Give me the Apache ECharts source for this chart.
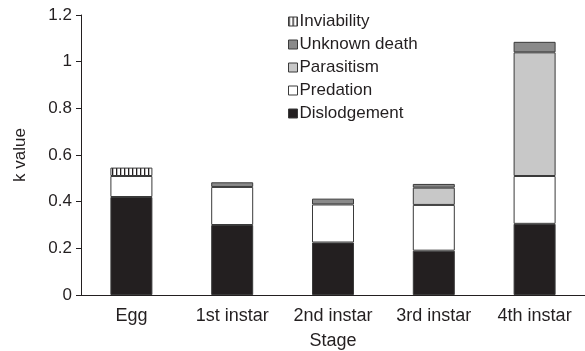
<!DOCTYPE html>
<html>
<head>
<meta charset="utf-8">
<script src="https://cdn.jsdelivr.net/npm/echarts@6/dist/echarts.min.js"></script>
<style>html,body{margin:0;padding:0;background:#fff;}#c{width:585px;height:351px;}</style>
</head>
<body>
<div id="c"></div>
<script>
const categories = ['Egg', '1st instar', '2nd instar', '3rd instar', '4th instar'];
const dislodgement = [0.42, 0.30, 0.225, 0.19, 0.305];
const predation = [0.09, 0.163, 0.163, 0.196, 0.205];
const parasitism = [0, 0, 0, 0.074, 0.53];
const unknownDeath = [0, 0.02, 0.025, 0.016, 0.045];
const inviability = [0.036, 0, 0, 0, 0];
const yTicks = [0, 0.2, 0.4, 0.6, 0.8, 1, 1.2];

function stripePattern() {
  const cv = document.createElement('canvas');
  cv.width = 4; cv.height = 8;
  const g = cv.getContext('2d');
  g.fillStyle = '#ffffff'; g.fillRect(0, 0, 4, 8);
  g.fillStyle = '#231f20'; g.fillRect(0, 0, 1.3, 8);
  return { image: cv, repeat: 'repeat' };
}
const toData = arr => arr.map(v => (v === 0 ? null : v));
const font = 'Liberation Sans, Arial, sans-serif';
const border = { borderColor: '#3a3a3a', borderWidth: 1 };

const chart = echarts.init(document.getElementById('c'), null, { renderer: 'canvas' });
const mk = (name, data, color) => ({
  name, type: 'bar', stack: 'k', data: toData(data), barWidth: 42,
  itemStyle: Object.assign({ color }, border),
  emphasis: { disabled: true }
});
chart.setOption({
  animation: false,
  textStyle: { fontFamily: font },
  grid: { left: 81, right: 0, top: 15, bottom: 56, outerBoundsMode: 'none', containLabel: false },
  legend: {
    orient: 'vertical', left: 288, top: 13, padding: 0,
    itemWidth: 9, itemHeight: 9, itemGap: 6,
    icon: 'rect',
    data: ['Inviability', 'Unknown death', 'Parasitism', 'Predation', 'Dislodgement'],
    textStyle: { fontFamily: font, fontSize: 17, color: '#231f20', padding: [0, 0, 0, -3] },
    itemStyle: { borderColor: '#3a3a3a', borderWidth: 1 }
  },
  xAxis: {
    type: 'category', data: categories,
    name: 'Stage', nameLocation: 'middle', nameGap: 37,
    nameTextStyle: { fontFamily: font, fontSize: 18, color: '#231f20' },
    axisLine: { lineStyle: { color: '#231f20', width: 1 } },
    axisTick: { length: 5, lineStyle: { color: '#231f20' } },
    axisLabel: { fontFamily: font, fontSize: 18, color: '#231f20', margin: 12, interval: 0 }
  },
  yAxis: {
    type: 'value', min: yTicks[0], max: yTicks[yTicks.length - 1], interval: 0.2,
    name: 'k value', nameLocation: 'middle', nameGap: 52, nameRotate: 90,
    nameTextStyle: { fontFamily: font, fontSize: 17, color: '#231f20' },
    splitLine: { show: false },
    axisLine: { show: true, lineStyle: { color: '#231f20', width: 1 } },
    axisTick: { show: true, length: 5, lineStyle: { color: '#231f20' } },
    axisLabel: { fontFamily: font, fontSize: 17, color: '#231f20', margin: 9 }
  },
  series: [
    mk('Dislodgement', dislodgement, '#231f20'),
    mk('Predation', predation, '#ffffff'),
    mk('Parasitism', parasitism, '#c8c8c8'),
    mk('Unknown death', unknownDeath, '#8a8a8a'),
    mk('Inviability', inviability, stripePattern())
  ]
});
</script>
</body>
</html>
